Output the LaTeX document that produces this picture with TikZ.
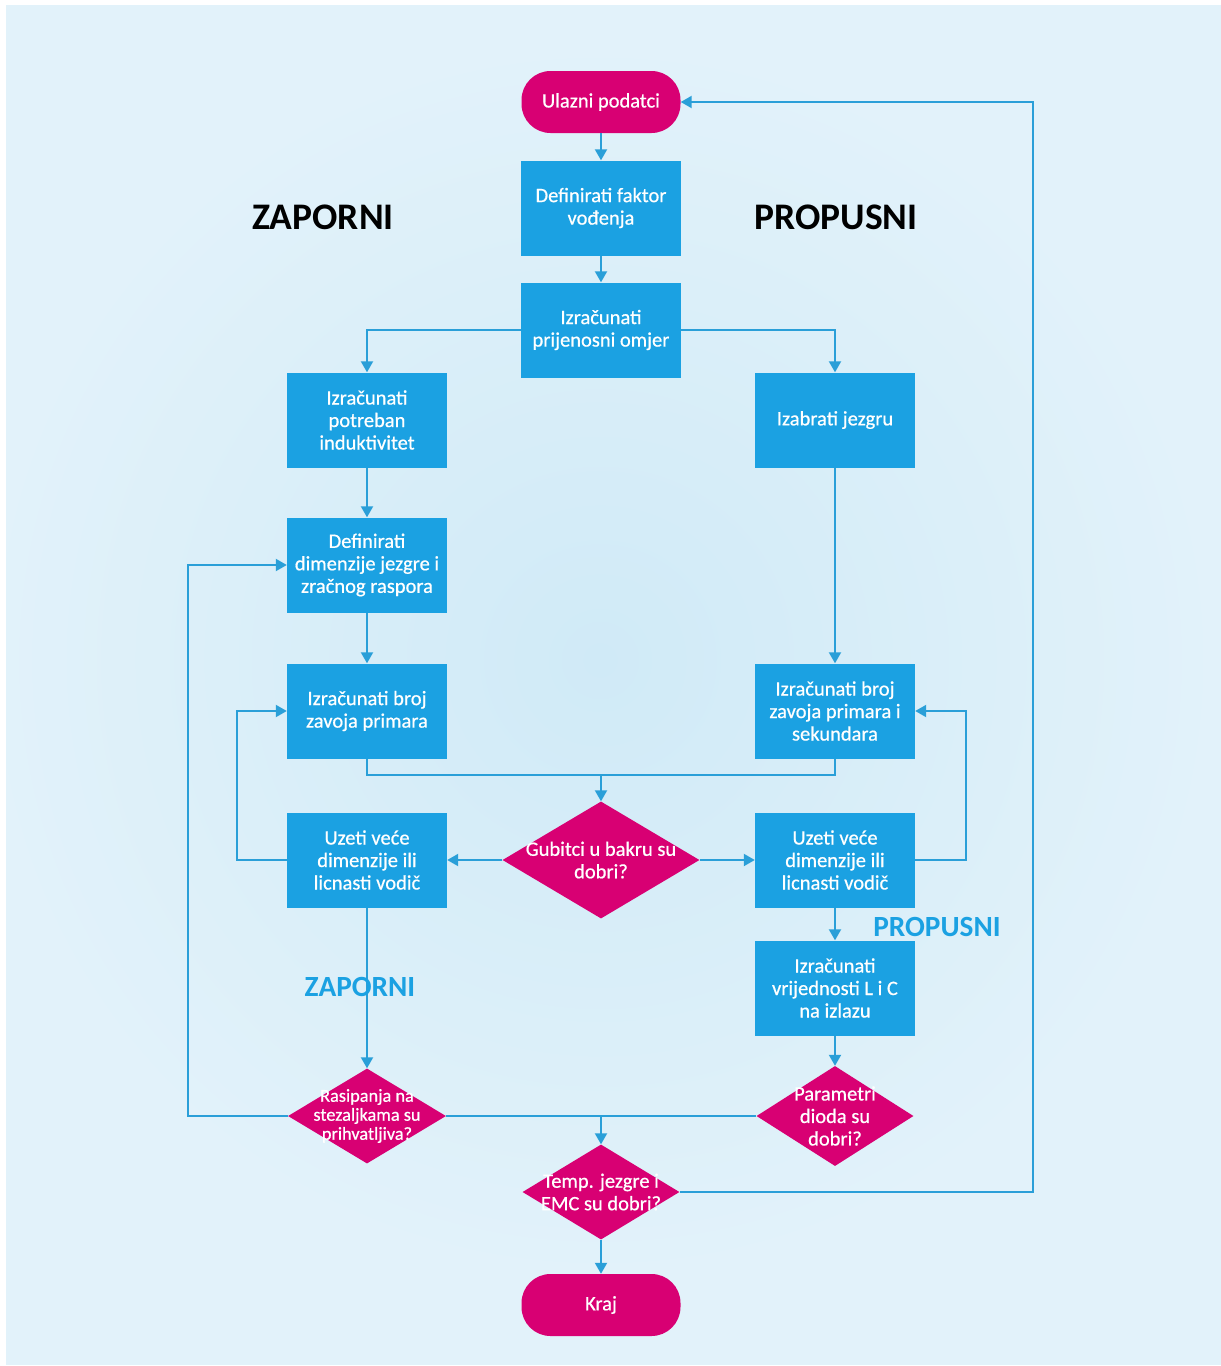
\documentclass[tikz,border=0pt]{standalone}
\usepackage{fontspec}
\setmainfont{Carlito}
\newfontface\boxfont{Carlito}[FakeBold=0.6]
\usetikzlibrary{shapes.geometric,arrows.meta}
\definecolor{boxblue}{HTML}{1BA1E2}
\definecolor{magenta}{HTML}{D80073}
\definecolor{linec}{HTML}{2A9FD8}
\definecolor{bgout}{HTML}{E2F2FA}
\definecolor{bgin}{HTML}{D0EAF7}
\begin{document}
\begin{tikzpicture}[x=1pt, y=-1pt,
  every node/.style={font=\boxfont\fontsize{20.5}{22.5}\selectfont},
  box/.style={rectangle, fill=boxblue, text=white, minimum width=160pt, minimum height=95pt, inner sep=0pt, align=center},
  pill/.style={rectangle, rounded corners=29pt, fill=magenta, text=white, minimum width=159pt, minimum height=62pt, inner sep=0pt},
  dia/.style={diamond, fill=magenta, inner sep=0pt},
  dtxt/.style={text=white, align=center, inner sep=0pt},
  flow/.style={draw=linec, line width=2pt, -{Triangle[length=11pt,width=12pt]}},
  wire/.style={draw=linec, line width=2pt},
  head/.style={font=\fontsize{37.5}{40}\selectfont\bfseries},
  side/.style={text=boxblue, font=\fontsize{29.3}{32}\selectfont\bfseries}]
  \useasboundingbox (0,0) rectangle (1221,1366);
  % pozadina
  \fill[white] (0,0) rectangle (1221,1366);
  \fill[bgout] (6,5) rectangle (1221,1365);
  \begin{scope}
    \clip (6,5) rectangle (1221,1365);
    \shade[inner color=bgin, outer color=bgout] (600,660) circle (620);
  \end{scope}
  % blokovi
  \node[pill] (start) at (601,102) {Ulazni podatci};
  \node[box] (fak) at (601,208) {Definirati faktor\\vođenja};
  \node[box] (omj) at (601,330) {Izračunati\\prijenosni omjer};
  \node[box] (ind) at (367,420) {Izračunati\\potreban\\induktivitet};
  \node[box] (jez) at (835,420) {Izabrati jezgru};
  \node[box] (dim) at (367,565) {Definirati\\dimenzije jezgre i\\zračnog raspora};
  \node[box] (zavZ) at (367,711) {Izračunati broj\\zavoja primara};
  \node[box] (zavP) at (835,711) {Izračunati broj\\zavoja primara i\\sekundara};
  \node[dia, minimum width=197pt, minimum height=117pt] (gub) at (601,860) {};
  \node[dtxt] (gubt) at (gub) {Gubitci u bakru su\\dobri?};
  \node[box] (uzZ) at (367,860) {Uzeti veće\\dimenzije ili\\licnasti vodič};
  \node[box] (uzP) at (835,860) {Uzeti veće\\dimenzije ili\\licnasti vodič};
  \node[box] (lc) at (835,988) {Izračunati\\vrijednosti L i C\\na izlazu};
  \node[dia, minimum width=158pt, minimum height=95pt] (ras) at (367,1116) {};
  \node[dtxt, font=\boxfont\fontsize{18.3}{19}\selectfont] (rast) at (ras) {Rasipanja na\\stezaljkama su\\prihvatljiva?};
  \node[dia, minimum width=157pt, minimum height=100pt] (par) at (835,1116) {};
  \node[dtxt] (part) at (par) {Parametri\\dioda su\\dobri?};
  \node[dia, minimum width=157pt, minimum height=95pt] (tmp) at (601,1192) {};
  \node[dtxt] (tmpt) at (tmp) {Temp. jezgre i\\EMC su dobri?};
  \node[pill] (end) at (601,1305) {Kraj};
  % veze
  \draw[flow] (start) -- (fak);
  \draw[flow] (fak) -- (omj);
  \draw[flow] (omj.west) -| (ind.north);
  \draw[flow] (omj.east) -| (jez.north);
  \draw[flow] (ind) -- (dim);
  \draw[flow] (jez) -- (zavP);
  \draw[flow] (dim) -- (zavZ);
  \coordinate (spoj) at (601,775);
  \draw[wire] (zavZ.south) |- (spoj) -| (zavP.south);
  \draw[flow] (spoj) -- (gub.north);
  \draw[flow] (gub.west) -- (uzZ.east);
  \draw[flow] (gub.east) -- (uzP.west);
  \draw[flow] (uzZ.west) -- ++(-50,0) |- (zavZ.west);
  \draw[flow] (uzP.east) -- ++(51,0) |- (zavP.east);
  \draw[flow] (uzP) -- (lc);
  \draw[flow] (uzZ) -- (ras.north);
  \draw[flow] (lc) -- (par.north);
  \draw[flow] (ras.west) -- ++(-100,0) |- (dim.west);
  \draw[wire] (ras.east) -- (par.west);
  \coordinate (sred) at (601,1116);
  \draw[flow] (sred) -- (tmp.north);
  \draw[flow] (tmp.east) -- ++(353,0) |- (start.east);
  \draw[flow] (tmp) -- (end);
  % natpisi
  \node[head] (zap) at (323,217) {ZAPORNI};
  \node[head] (prop) at (836,217) {PROPUSNI};
  \node[side] (prop2) at (937,927) {PROPUSNI};
  \node[side] (zap2) at (360,987) {ZAPORNI};
\end{tikzpicture}
\end{document}
